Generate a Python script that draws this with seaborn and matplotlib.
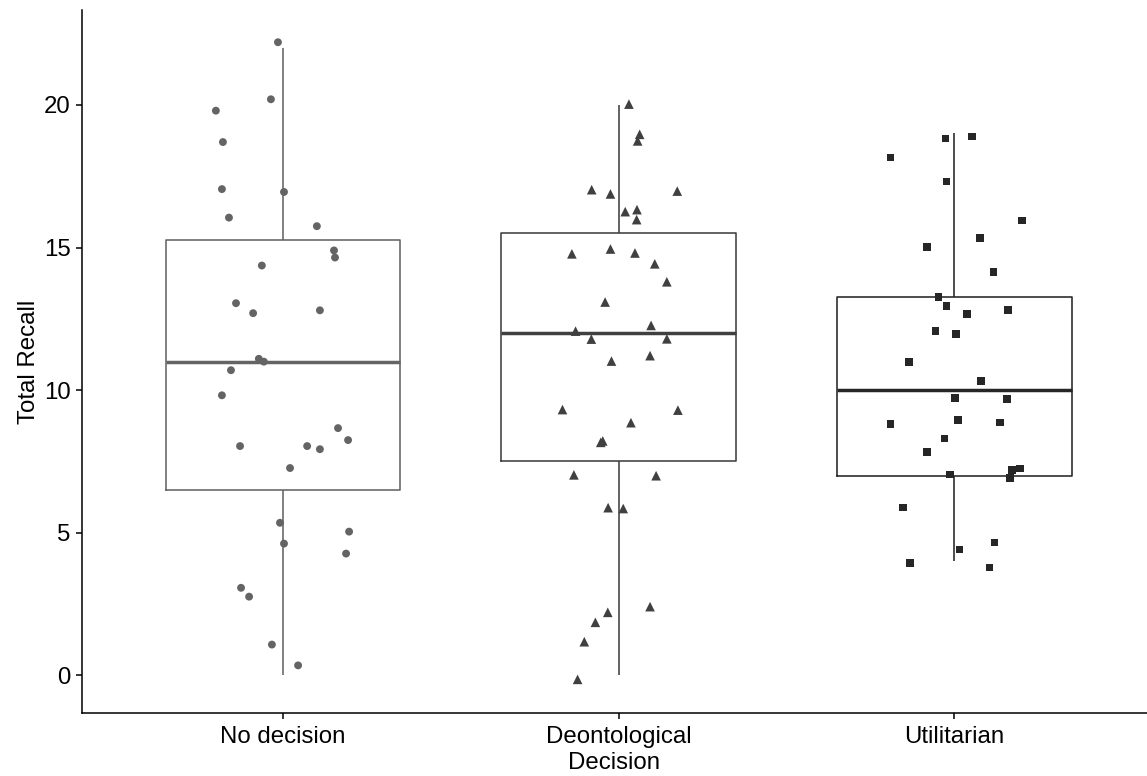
import numpy as np
import pandas as pd
import matplotlib
matplotlib.use("Agg")
import matplotlib.pyplot as plt
import seaborn as sns

# ---------------- data ----------------
categories = ["No decision", "Deontological", "Utilitarian"]
tick_labels = ["No decision", "Deontological", "Utilitarian"]
y_ticks = [0, 5, 10, 15, 20]

# jittered point values as drawn
nodecision_points = [22.2, 20.2, 19.8, 18.7, 17.05, 16.95, 16.05, 15.75, 14.9, 14.65,
                     14.37, 13.05, 12.7, 12.8, 11.1, 11.0, 10.7, 9.82, 8.67, 8.25,
                     8.04, 8.04, 7.93, 7.27, 5.35, 5.04, 4.62, 4.27, 3.07, 2.76,
                     1.08, 0.35]
nodecision_jitter = [-0.015, -0.036, -0.200, -0.179, -0.182, 0.003, -0.161, 0.101, 0.152, 0.155,
                     -0.063, -0.140, -0.089, 0.110, -0.072, -0.057, -0.155, -0.182, 0.164, 0.194,
                     -0.128, 0.072, 0.110, 0.021, -0.009, 0.197, 0.003, 0.188, -0.125, -0.101,
                     -0.033, 0.045]

deont_points = [20.03, 18.97, 18.74, 17.03, 16.88, 16.98, 16.26, 16.33, 15.98, 14.78,
                14.95, 14.81, 14.43, 13.80, 13.09, 12.07, 12.27, 11.79, 11.80, 11.21,
                11.02, 9.32, 9.30, 8.86, 8.22, 8.17, 7.03, 7.00, 5.88, 5.85,
                2.41, 2.21, 1.86, 1.18, -0.14]
deont_jitter = [0.031, 0.063, 0.057, -0.080, -0.024, 0.175, 0.020, 0.055, 0.054, -0.139,
                -0.024, 0.049, 0.108, 0.144, -0.040, -0.128, 0.097, -0.081, 0.144, 0.094,
                -0.021, -0.167, 0.177, 0.037, -0.047, -0.053, -0.133, 0.112, -0.031, 0.014,
                0.094, -0.032, -0.069, -0.102, -0.122]

util_points = [18.82, 18.89, 18.16, 17.32, 15.95, 15.33, 15.01, 14.14, 13.26, 12.95,
               12.81, 12.67, 12.07, 11.97, 10.99, 10.33, 9.73, 9.70, 8.82, 8.96,
               8.86, 8.30, 7.84, 7.04, 7.20, 7.25, 6.93, 5.88, 4.42, 4.66,
               3.93, 3.78]
util_jitter = [-0.025, 0.053, -0.189, -0.022, 0.202, 0.077, -0.081, 0.118, -0.046, -0.022,
               0.160, 0.038, -0.055, 0.005, -0.135, 0.080, 0.002, 0.157, -0.189, 0.011,
               0.136, -0.028, -0.081, -0.013, 0.172, 0.196, 0.166, -0.153, 0.016, 0.121,
               -0.132, 0.106]

colors = {"No decision": "#646464", "Deontological": "#404040", "Utilitarian": "#262626"}
markers = {"No decision": "o", "Deontological": "^", "Utilitarian": "s"}
marker_sizes = {"No decision": 32, "Deontological": 48, "Utilitarian": 30}

# ---------------- frames ----------------
groups = [(categories[0], nodecision_points, nodecision_jitter),
          (categories[1], deont_points, deont_jitter),
          (categories[2], util_points, util_jitter)]
rows = []
for i, (cat, pts, jit) in enumerate(groups):
    for v, j in zip(pts, jit):
        rows.append({"Decision": cat, "Recall": v, "xpos": i + j,
                     "RecallRaw": float(np.rint(v))})
df = pd.DataFrame(rows)

# ---------------- plot ----------------
sns.set_theme(style="ticks")
plt.rcParams["font.family"] = ["Liberation Sans", "DejaVu Sans"]

FS = 17.3
fig = plt.figure(figsize=(11.47, 7.76), dpi=100)
ax = fig.add_axes([82 / 1147, (776 - 713.3) / 776, 1 - 82 / 1147, (713.3 - 10) / 776])

for cat in categories:
    sub = df[df["Decision"] == cat]
    sns.scatterplot(data=sub, x="xpos", y="Recall", color=colors[cat],
                    marker=markers[cat], s=marker_sizes[cat], linewidth=0,
                    edgecolor="none", legend=False, ax=ax, zorder=3)

sns.boxplot(data=df, x="Decision", y="RecallRaw", hue="Decision", order=categories,
            hue_order=categories, palette=colors, fill=False, width=0.7,
            showcaps=False, showfliers=False, linewidth=1.15,
            medianprops={"linewidth": 2.5}, legend=False, ax=ax)

ax.set_xlim(-0.599, 2.575)
ax.set_ylim(-1.33, 23.33)
ax.set_xticks([0, 1, 2])
ax.set_xticklabels(tick_labels)
ax.set_yticks(y_ticks)
ax.set_yticklabels([str(t) for t in y_ticks])

for s in ["top", "right"]:
    ax.spines[s].set_visible(False)
for s in ["left", "bottom"]:
    ax.spines[s].set_linewidth(1.1)
    ax.spines[s].set_color("black")

ax.tick_params(axis="both", length=4.3, width=1.1, color="black",
               labelcolor="black", labelsize=FS)
ax.tick_params(axis="x", pad=4.5)
ax.tick_params(axis="y", pad=4)
ax.set_xlabel("Decision", fontsize=FS, color="black", labelpad=3.5)
ax.set_ylabel("Total Recall", fontsize=FS, color="black", labelpad=3)
ax.grid(False)
ax.set_facecolor("white")
fig.patch.set_facecolor("white")

fig.savefig("out.png", dpi=100)
